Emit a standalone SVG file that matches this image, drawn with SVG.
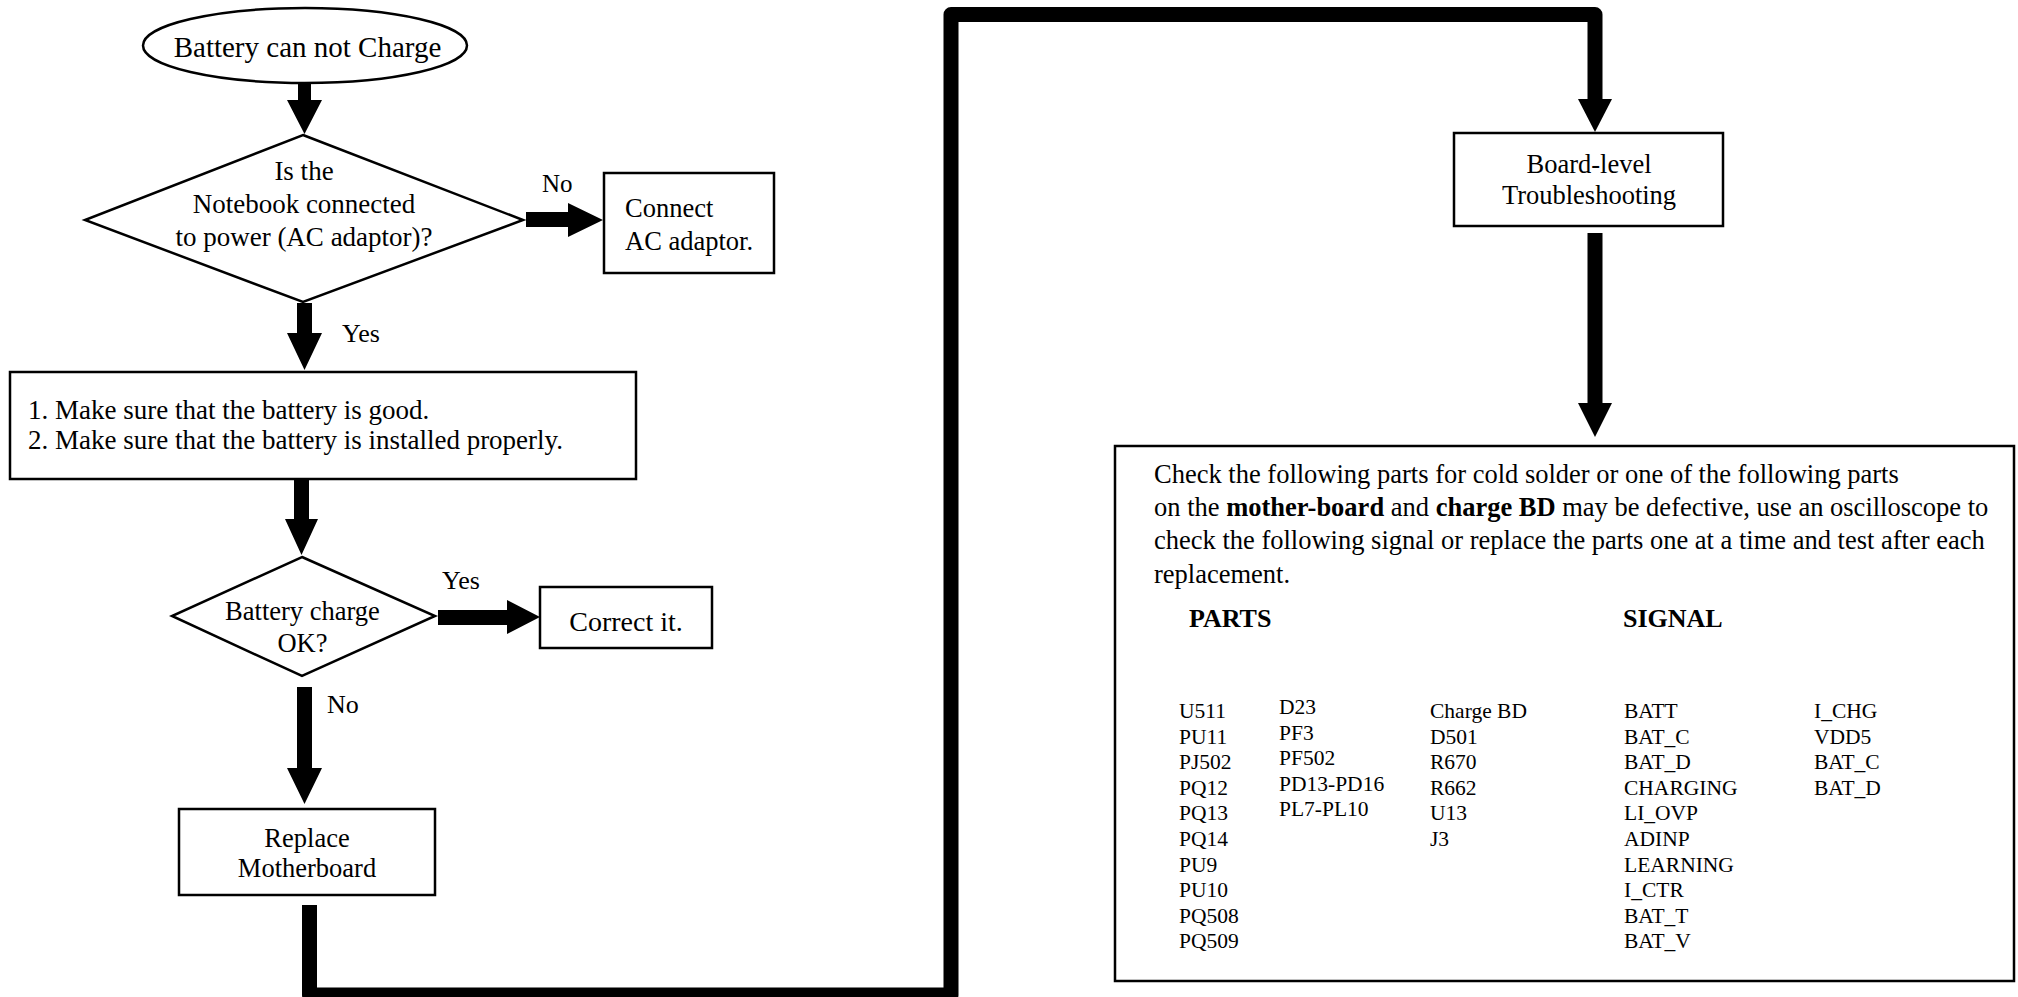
<svg xmlns="http://www.w3.org/2000/svg" width="2018" height="997" viewBox="0 0 2018 997">
<style>
.shape{fill:#fff;stroke:#000;stroke-width:2.5}
.t{font-family:"Liberation Serif","Times New Roman",serif;fill:#000}
.c{text-anchor:middle}
.b{font-weight:bold}
.ah{fill:#000;stroke:none}
.loop{fill:none;stroke:#000;stroke-width:15;stroke-linejoin:round}
.p{font-size:21.5px}
</style>
<rect width="2018" height="997" fill="#fff"/>

<g id="connectors">
  <polygon class="ah" points="298,84 311,84 311,100 322,100 304.5,134 287,100 298,100"/>
  <polygon class="ah" points="526,212 568,212 568,203 603,220 568,237 568,227 526,227"/>
  <polygon class="ah" points="297,303 312,303 312,333 322,333 304.5,370 287,333 297,333"/>
  <polygon class="ah" points="294,480 309,480 309,519 318,519 301.5,555 285,519 294,519"/>
  <polygon class="ah" points="438,610 507,610 507,600 540,617 507,634 507,625 438,625"/>
  <polygon class="ah" points="297,687 312,687 312,768 322,768 304.5,804 287,768 297,768"/>
  <path class="loop" d="M309.5,905 V995 H951 V14.5 H1595 V100"/>
  <polygon class="ah" points="1578,99 1612,99 1595,132"/>
  <polygon class="ah" points="1587.5,233 1602.5,233 1602.5,403 1612,403 1595,437 1578,403 1587.5,403"/>
  <text class="t" x="542" y="192" font-size="25">No</text>
  <text class="t" x="342" y="342" font-size="26">Yes</text>
  <text class="t" x="442" y="589" font-size="26">Yes</text>
  <text class="t" x="327" y="713" font-size="26">No</text>
</g>

<g id="start">
  <ellipse class="shape" cx="305" cy="45.5" rx="162" ry="37.5"/>
  <text class="t c" x="307.5" y="57" font-size="29">Battery can not Charge</text>
</g>

<g id="decision-power">
  <polygon class="shape" points="303,135 523,220 303,302 85,220"/>
  <text class="t c" font-size="27"><tspan x="304" y="180">Is the</tspan><tspan x="304" y="213">Notebook connected</tspan><tspan x="304" y="246">to power (AC adaptor)?</tspan></text>
</g>

<g id="connect-ac">
  <rect class="shape" x="604" y="173" width="170" height="100"/>
  <text class="t" font-size="26.5"><tspan x="625" y="217">Connect</tspan><tspan x="625" y="250">AC adaptor.</tspan></text>
</g>

<g id="check-battery">
  <rect class="shape" x="10" y="372" width="626" height="107"/>
  <text class="t" font-size="27"><tspan x="28" y="419">1. Make sure that the battery is good.</tspan><tspan x="28" y="449">2. Make sure that the battery is installed properly.</tspan></text>
</g>

<g id="decision-charge">
  <polygon class="shape" points="302,557 435,616 302,676 172,616"/>
  <text class="t c" font-size="26.5"><tspan x="302.5" y="620">Battery charge</tspan><tspan x="302.5" y="652">OK?</tspan></text>
</g>

<g id="correct-it">
  <rect class="shape" x="540" y="587" width="172" height="61"/>
  <text class="t c" x="626" y="631" font-size="28">Correct it.</text>
</g>

<g id="replace-mb">
  <rect class="shape" x="179" y="809" width="256" height="86"/>
  <text class="t c" font-size="26.5"><tspan x="307" y="847">Replace</tspan><tspan x="307" y="877">Motherboard</tspan></text>
</g>

<g id="board-level">
  <rect class="shape" x="1454" y="133" width="269" height="93"/>
  <text class="t c" font-size="26.5"><tspan x="1589" y="173">Board-level</tspan><tspan x="1589" y="204">Troubleshooting</tspan></text>
</g>

<g id="check-parts">
  <rect class="shape" x="1115" y="446" width="899" height="535"/>
  <text class="t" font-size="26.5">
    <tspan x="1154" y="483">Check the following parts for cold solder or one of the following parts</tspan>
    <tspan x="1154" y="516">on the <tspan class="b">mother-board</tspan> and <tspan class="b">charge BD</tspan> may be defective, use an oscilloscope to</tspan>
    <tspan x="1154" y="549">check the following signal or replace the parts one at a time and test after each</tspan>
    <tspan x="1154" y="583">replacement.</tspan>
  </text>
  <text class="t b" x="1189" y="627" font-size="26">PARTS</text>
  <text class="t b" x="1623" y="627" font-size="26">SIGNAL</text>
  <text class="t p">
    <tspan x="1179" y="718">U511</tspan><tspan x="1179" y="743.6">PU11</tspan><tspan x="1179" y="769.2">PJ502</tspan><tspan x="1179" y="794.8">PQ12</tspan><tspan x="1179" y="820.4">PQ13</tspan><tspan x="1179" y="846">PQ14</tspan><tspan x="1179" y="871.6">PU9</tspan><tspan x="1179" y="897.2">PU10</tspan><tspan x="1179" y="922.8">PQ508</tspan><tspan x="1179" y="948.4">PQ509</tspan>
  </text>
  <text class="t p">
    <tspan x="1279" y="714">D23</tspan><tspan x="1279" y="740">PF3</tspan><tspan x="1279" y="765">PF502</tspan><tspan x="1279" y="791">PD13-PD16</tspan><tspan x="1279" y="816">PL7-PL10</tspan>
  </text>
  <text class="t p">
    <tspan x="1430" y="718">Charge BD</tspan><tspan x="1430" y="743.6">D501</tspan><tspan x="1430" y="769.2">R670</tspan><tspan x="1430" y="794.8">R662</tspan><tspan x="1430" y="820.4">U13</tspan><tspan x="1430" y="846">J3</tspan>
  </text>
  <text class="t p">
    <tspan x="1624" y="718">BATT</tspan><tspan x="1624" y="743.6">BAT_C</tspan><tspan x="1624" y="769.2">BAT_D</tspan><tspan x="1624" y="794.8">CHARGING</tspan><tspan x="1624" y="820.4">LI_OVP</tspan><tspan x="1624" y="846">ADINP</tspan><tspan x="1624" y="871.6">LEARNING</tspan><tspan x="1624" y="897.2">I_CTR</tspan><tspan x="1624" y="922.8">BAT_T</tspan><tspan x="1624" y="948.4">BAT_V</tspan>
  </text>
  <text class="t p">
    <tspan x="1814" y="718">I_CHG</tspan><tspan x="1814" y="743.6">VDD5</tspan><tspan x="1814" y="769.2">BAT_C</tspan><tspan x="1814" y="794.8">BAT_D</tspan>
  </text>
</g>
</svg>
